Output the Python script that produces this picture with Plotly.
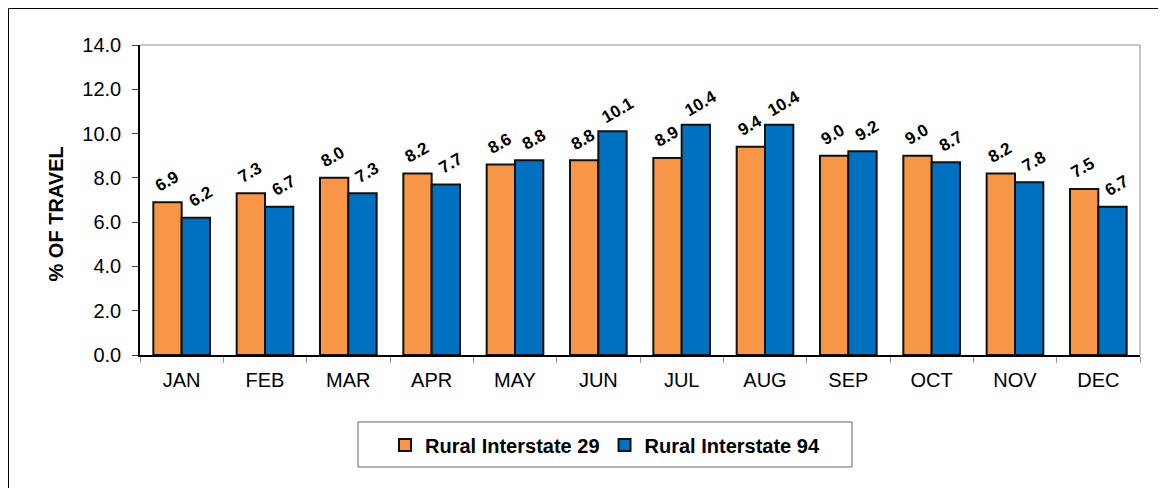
import plotly.graph_objects as go

months = ['JAN', 'FEB', 'MAR', 'APR', 'MAY', 'JUN', 'JUL', 'AUG', 'SEP', 'OCT', 'NOV', 'DEC']
rural_29 = [6.9, 7.3, 8.0, 8.2, 8.6, 8.8, 8.9, 9.4, 9.0, 9.0, 8.2, 7.5]
rural_94 = [6.2, 6.7, 7.3, 7.7, 8.8, 10.1, 10.4, 10.4, 9.2, 8.7, 7.8, 6.7]

FONT = 'Liberation Sans, Arial, sans-serif'

# the page body keeps an 8px margin, so the figure is sized to fit inside the window
W, H = 1150, 480
L, T, PW, PH = 132, 37, 1000, 310


def px_x(v):
    return (v - L) / PW


def px_y(v):
    return 1 - (v - T) / PH


series = [('Rural Interstate 29', rural_29, '#F79646', -15),
          ('Rural Interstate 94', rural_94, '#0070C0', 19)]

fig = go.Figure()
annotations = []
for name, vals, color, shift in series:
    fig.add_trace(go.Bar(
        x=months, y=vals, name=name,
        marker=dict(color=color, line=dict(color='#111111', width=2)),
    ))
    # tilted value labels above each bar
    for m, v in zip(months, vals):
        annotations.append(dict(
            x=m, y=v, text=f'<b>{v:.1f}</b>', showarrow=False, textangle=-30,
            xshift=shift, yshift=21, xanchor='center', yanchor='middle',
            font=dict(family=FONT, size=17, color='black'),
        ))

annotations.append(dict(
    text='<b>% OF TRAVEL</b>', xref='paper', yref='paper',
    x=px_x(47.5), y=px_y(206), textangle=-90, showarrow=False,
    font=dict(family=FONT, size=20, color='black'),
    xanchor='center', yanchor='middle'))

fig.update_layout(
    width=W, height=H,
    margin=dict(l=L, r=W - L - PW, t=T, b=H - T - PH),
    paper_bgcolor='white', plot_bgcolor='white',
    barmode='group', bargap=0.32, bargroupgap=0,
    font=dict(family=FONT, size=20, color='black'),
    legend=dict(
        orientation='h', x=px_x(597), y=px_y(437), xanchor='center', yanchor='middle',
        borderwidth=0, bgcolor='rgba(0,0,0,0)',
        font=dict(family=FONT, size=20, weight='bold'),
    ),
    shapes=[
        # outer chart frame (only top and left are visible in the crop)
        dict(type='line', xref='paper', yref='paper', x0=px_x(0.5), x1=px_x(W),
             y0=px_y(0.5), y1=px_y(0.5), line=dict(color='black', width=1)),
        dict(type='line', xref='paper', yref='paper', x0=px_x(0.5), x1=px_x(0.5),
             y0=px_y(0.5), y1=px_y(H), line=dict(color='black', width=1)),
        # plot area top/right border
        dict(type='line', xref='paper', yref='paper', x0=0, x1=1, y0=1, y1=1,
             line=dict(color='#8c8c8c', width=1)),
        dict(type='line', xref='paper', yref='paper', x0=1, x1=1, y0=0, y1=1,
             line=dict(color='#8c8c8c', width=1)),
        # legend box
        dict(type='rect', xref='paper', yref='paper', x0=px_x(350), x1=px_x(844),
             y0=px_y(459), y1=px_y(414), line=dict(color='#666666', width=1)),
    ],
    annotations=annotations,
)
fig.update_yaxes(
    range=[0, 14], dtick=2, tickformat='.1f', showgrid=False,
    showline=True, linecolor='black', linewidth=1.5,
    ticks='outside', ticklen=6, tickcolor='#444444', ticklabelstandoff=7,
    zeroline=False,
)
fig.update_xaxes(
    showgrid=False, showline=True, linecolor='black', linewidth=1.5,
    ticks='outside', tickson='boundaries', ticklen=6, tickcolor='#999999',
    ticklabelstandoff=6,
)

fig.write_html("out.html")
